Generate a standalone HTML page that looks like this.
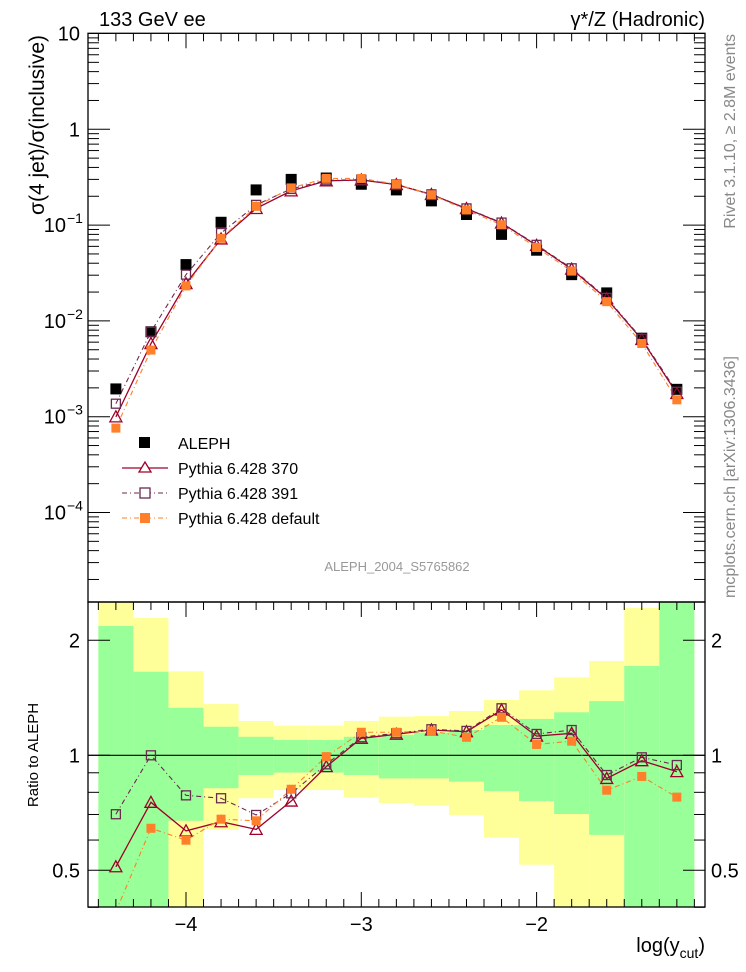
<!DOCTYPE html>
<html><head><meta charset="utf-8"><style>
html,body{margin:0;padding:0;background:#fff;}
svg{display:block;font-family:"Liberation Sans",Arial,sans-serif;}
</style></head><body>
<svg id="chart" width="746" height="972" viewBox="0 0 746 972" xmlns="http://www.w3.org/2000/svg">
<text x="99" y="26" font-size="20">133 GeV ee</text>
<text x="705" y="26" font-size="20" text-anchor="end">γ*/Z (Hadronic)</text>
<text transform="translate(44,35) rotate(-90)" font-size="21" text-anchor="end">σ(4 jet)/σ(inclusive)</text>
<text transform="translate(735,34) rotate(-90)" font-size="16" fill="#888" text-anchor="end">Rivet 3.1.10, ≥ 2.8M events</text>
<text transform="translate(735,598) rotate(-90)" font-size="16" fill="#888">mcplots.cern.ch [arXiv:1306.3436]</text>
<text x="397" y="571" font-size="13" fill="#999" text-anchor="middle">ALEPH_2004_S5765862</text>
<text transform="translate(38,755) rotate(-90)" font-size="15" text-anchor="middle">Ratio to ALEPH</text>
<text x="705" y="952" font-size="20" text-anchor="end">log(y<tspan font-size="14" dy="6">cut</tspan><tspan dy="-6">)</tspan></text>
<g id="bands"></g>
<g id="ratio"></g>
<g id="main"></g>
<g id="axes"></g>
<g id="legend">
  <rect x="139" y="437" width="11" height="11" fill="#000"/>
  <text x="178" y="449" font-size="16">ALEPH</text>
  <line x1="122" y1="468" x2="168" y2="468" stroke="#a0002a" stroke-width="1.3"/>
  <path d="M145,462 L151,472 L139,472 Z" fill="#fff" stroke="#a0002a" stroke-width="1.3"/>
  <text x="178" y="474" font-size="16">Pythia 6.428 370</text>
  <line x1="122" y1="493" x2="168" y2="493" stroke="#6b2a50" stroke-width="1.1" stroke-dasharray="5,3,1,3"/>
  <rect x="140" y="488" width="10" height="10" fill="#fff" stroke="#6b2a50" stroke-width="1.3"/>
  <text x="178" y="499" font-size="16">Pythia 6.428 391</text>
  <line x1="122" y1="518" x2="168" y2="518" stroke="#ff7f2a" stroke-width="1.1" stroke-dasharray="5,3,1,3"/>
  <rect x="140" y="513" width="10" height="10" fill="#ff7f2a"/>
  <text x="178" y="524" font-size="16">Pythia 6.428 default</text>
</g>
</svg>
<script>
const xCenters=[-4.4,-4.2,-4.0,-3.8,-3.6,-3.4,-3.2,-3.0,-2.8,-2.6,-2.4,-2.2,-2.0,-1.8,-1.6,-1.4,-1.2];
const aleph=[1.95e-3,7.7e-3,0.0387,0.107,0.233,0.30,0.31,0.267,0.233,0.179,0.129,0.080,0.0547,0.0304,0.0196,0.0066,0.00193];
const py370=[9.96e-4,5.80e-3,0.02454,0.0717,0.1491,0.2277,0.2895,0.2958,0.2645,0.2085,0.1487,0.1051,0.0614,0.0347,0.01705,0.00639,0.001749];
const py391=[1.367e-3,7.7e-3,0.0304,0.0826,0.1626,0.2385,0.2936,0.2977,0.2661,0.2094,0.1494,0.1062,0.0622,0.0354,0.0174,0.00652,0.00182];
const pyDef=[7.6e-4,4.96e-3,0.0232,0.0728,0.157,0.2445,0.3075,0.3068,0.2677,0.2073,0.1438,0.1006,0.0584,0.0331,0.01588,0.00581,0.0015];
const greenUp=[2.18,1.655,1.332,1.188,1.118,1.097,1.097,1.118,1.13,1.146,1.165,1.2,1.245,1.296,1.387,1.714,3];
const greenLo=[0.3,0.3,0.674,0.820,0.888,0.901,0.901,0.888,0.87,0.87,0.853,0.806,0.759,0.702,0.619,0.3,0.3];
const yellowUp=[3,2.29,1.66,1.362,1.23,1.195,1.195,1.23,1.262,1.267,1.306,1.396,1.48,1.6,1.765,2.43,3];
const yellowLo=[0.3,0.3,0.3,0.638,0.772,0.811,0.811,0.775,0.75,0.738,0.698,0.609,0.517,0.3,0.3,0.3,0.3];
const xTickLabels=["−4","−3","−2"];
const xTickVals=[-4,-3,-2];

const NS="http://www.w3.org/2000/svg";
const L=88,R=705,T=33.3,MB=602,RB=907;
const X=v=>186+(v+4)*175.3;
const Y=v=>129.3-95.8*Math.log10(v);
const YR=v=>755.3-382*Math.log10(v);
function mk(tag,attrs,parent){const e=document.createElementNS(NS,tag);for(const k in attrs)e.setAttribute(k,attrs[k]);parent.appendChild(e);return e;}
const bands=document.getElementById('bands'),ratio=document.getElementById('ratio'),main=document.getElementById('main'),axes=document.getElementById('axes');
const defs=mk('defs',{},document.getElementById('chart'));
const cp=mk('clipPath',{id:'rclip'},defs);mk('rect',{x:L,y:MB,width:R-L,height:RB-MB},cp);
const cm=mk('clipPath',{id:'mclip'},defs);mk('rect',{x:L,y:T,width:R-L,height:MB-T},cm);
bands.setAttribute('clip-path','url(#rclip)');ratio.setAttribute('clip-path','url(#rclip)');main.setAttribute('clip-path','url(#mclip)');
xCenters.forEach((c,i)=>{
  const x0=X(c-0.1),x1=X(c+0.1);
  let r=mk('rect',{x:x0,y:YR(yellowUp[i]),width:x1-x0,height:YR(yellowLo[i])-YR(yellowUp[i]),fill:'#ffff99'},bands);
  
  
  r=mk('rect',{x:x0,y:YR(greenUp[i]),width:x1-x0,height:YR(greenLo[i])-YR(greenUp[i]),fill:'#99ff99'},bands);
  
  
});
mk('line',{x1:L,y1:YR(1),x2:R,y2:YR(1),stroke:'#000','stroke-width':1.2},ratio);
const series=[
 {d:py370,c:'#a0002a',m:'tri',dash:null,w:1.3,n:'370'},
 {d:py391,c:'#6b2a50',m:'osq',dash:'5,3,1,3',w:1.1,n:'391'},
 {d:pyDef,c:'#ff7f2a',m:'fsq',dash:'5,3,1,3',w:1.1,n:'default'}];
function marker(g,m,x,y,c){
  if(m==='fsq')return mk('rect',{x:x-4.5,y:y-4.5,width:9,height:9,fill:c},g);
  if(m==='osq')return mk('rect',{x:x-4.5,y:y-4.5,width:9,height:9,fill:'none',stroke:c,'stroke-width':1.3},g);
  return mk('path',{d:`M${x},${y-6} L${x+6},${y+5} L${x-6},${y+5} Z`,fill:'none',stroke:c,'stroke-width':1.3},g);
}
series.forEach(s=>{
  const pts=xCenters.map((c,i)=>X(c)+','+Y(s.d[i])).join(' ');
  let pl=mk('polyline',{points:pts,fill:'none',stroke:s.c,'stroke-width':s.w},main);
  if(s.dash)pl.setAttribute('stroke-dasharray',s.dash);
  
  
  const rp=xCenters.map((c,i)=>X(c)+','+YR(s.d[i]/aleph[i])).join(' ');
  pl=mk('polyline',{points:rp,fill:'none',stroke:s.c,'stroke-width':s.w},ratio);
  if(s.dash)pl.setAttribute('stroke-dasharray',s.dash);
  
  
});
xCenters.forEach((c,i)=>{
  const r=mk('rect',{x:X(c)-5.5,y:Y(aleph[i])-5.5,width:11,height:11,fill:'#000'},main);
  
  
});
series.forEach(s=>{
  xCenters.forEach((c,i)=>{
    const m=marker(main,s.m,X(c),Y(s.d[i]),s.c);
    
    
    const m2=marker(ratio,s.m,X(c),YR(s.d[i]/aleph[i]),s.c);
    
    
  });
});
mk('rect',{x:L,y:T,width:R-L,height:MB-T,fill:'none',stroke:'#000','stroke-width':1.3},axes);
mk('rect',{x:L,y:MB,width:R-L,height:RB-MB,fill:'none',stroke:'#000','stroke-width':1.3},axes);
for(let e=-5;e<=1;e++){
  for(let k=1;k<10;k++){
    const v=k*Math.pow(10,e);const y=Y(v);
    if(y<T-0.5||y>MB)continue;
    const len=k===1?22:11;
    mk('line',{x1:L,y1:y,x2:L+len,y2:y,stroke:'#000'},axes);
    mk('line',{x1:R,y1:y,x2:R-len,y2:y,stroke:'#000'},axes);
  }
}
const yl=[[10,'10'],[1,'1'],[0.1,'10','−1'],[0.01,'10','−2'],[0.001,'10','−3'],[0.0001,'10','−4']];
yl.forEach(a=>{
  const t=mk('text',{x:a[2]?66:80,y:Y(a[0])+7,'font-size':20,'text-anchor':'end'},axes);
  t.textContent=a[1];
  
  
  if(a[2]){const s=mk('text',{x:67,y:Y(a[0])-2,'font-size':14},axes);s.textContent=a[2];}
});
for(let v=-4.5;v<=-1.05;v+=0.1){
  const vv=Math.round(v*10)/10;const x=X(vv);
  const maj=Math.abs(vv-Math.round(vv))<1e-6;const len=maj?15:8;
  mk('line',{x1:x,y1:T,x2:x,y2:T+len,stroke:'#000'},axes);
  mk('line',{x1:x,y1:MB,x2:x,y2:MB+len,stroke:'#000'},axes);
  mk('line',{x1:x,y1:RB,x2:x,y2:RB-len,stroke:'#000'},axes);
}
xTickVals.forEach((v,i)=>{
  const t=mk('text',{x:X(v),y:931,'font-size':20,'text-anchor':'middle'},axes);
  t.textContent=xTickLabels[i];
  
  
});
[0.4,0.5,0.6,0.7,0.8,0.9,1,2].forEach(v=>{
  const y=YR(v);const maj=(v===0.5||v===1||v===2);const len=maj?22:11;
  mk('line',{x1:L,y1:y,x2:L+len,y2:y,stroke:'#000'},axes);
  mk('line',{x1:R,y1:y,x2:R-len,y2:y,stroke:'#000'},axes);
});
[[2,'2'],[1,'1'],[0.5,'0.5']].forEach(a=>{
  let t=mk('text',{x:80,y:YR(a[0])+7,'font-size':20,'text-anchor':'end'},axes);t.textContent=a[1];
  
  
  t=mk('text',{x:711,y:YR(a[0])+7,'font-size':20},axes);t.textContent=a[1];
  
  
});
</script>
</body></html>
